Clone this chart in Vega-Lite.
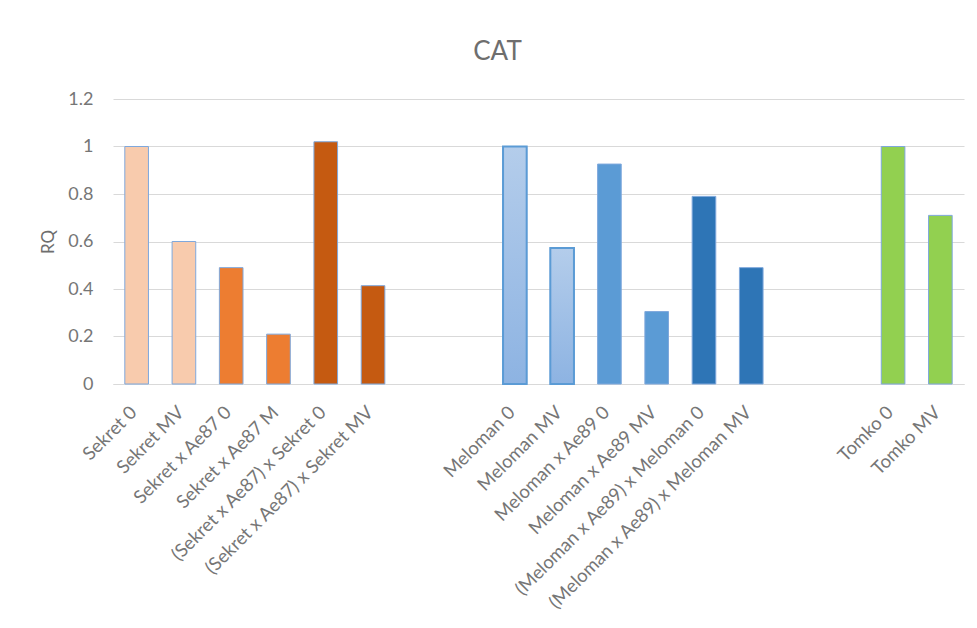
{
  "$schema": "https://vega.github.io/schema/vega-lite/v6.json",
  "width": 851,
  "height": 285,
  "autosize": {"type": "none"},
  "padding": {"left": 113, "top": 99, "right": 13, "bottom": 244},
  "background": "white",
  "title": {
    "text": "CAT",
    "font": "Lato",
    "fontSize": 26,
    "fontWeight": "normal",
    "color": "#6E6E6E",
    "anchor": "middle",
    "dx": -41,
    "offset": 25
  },
  "data": {
    "values": [
      {"label": "Sekret 0", "group": "Sekret", "RQ": 1.0},
      {"label": "Sekret MV", "group": "Sekret", "RQ": 0.6},
      {"label": "Sekret x Ae87 0", "group": "Sekret x Ae87", "RQ": 0.49},
      {"label": "Sekret x Ae87 M", "group": "Sekret x Ae87", "RQ": 0.21},
      {"label": "(Sekret x Ae87) x Sekret 0", "group": "(Sekret x Ae87) x Sekret", "RQ": 1.02},
      {"label": "(Sekret x Ae87) x Sekret MV", "group": "(Sekret x Ae87) x Sekret", "RQ": 0.414},
      {"label": "Meloman 0", "group": "Meloman", "RQ": 1.0},
      {"label": "Meloman MV", "group": "Meloman", "RQ": 0.573},
      {"label": "Meloman x Ae89 0", "group": "Meloman x Ae89", "RQ": 0.926},
      {"label": "Meloman x Ae89 MV", "group": "Meloman x Ae89", "RQ": 0.305},
      {"label": "(Meloman x Ae89) x Meloman 0", "group": "(Meloman x Ae89) x Meloman", "RQ": 0.79},
      {"label": "(Meloman x Ae89) x Meloman MV", "group": "(Meloman x Ae89) x Meloman", "RQ": 0.49},
      {"label": "Tomko 0", "group": "Tomko", "RQ": 1.0},
      {"label": "Tomko MV", "group": "Tomko", "RQ": 0.71}
    ]
  },
  "encoding": {
    "x": {
      "field": "label",
      "type": "nominal",
      "scale": {
        "domain": [
          "Sekret 0", "Sekret MV", "Sekret x Ae87 0", "Sekret x Ae87 M",
          "(Sekret x Ae87) x Sekret 0", "(Sekret x Ae87) x Sekret MV", " ", "  ",
          "Meloman 0", "Meloman MV", "Meloman x Ae89 0", "Meloman x Ae89 MV",
          "(Meloman x Ae89) x Meloman 0", "(Meloman x Ae89) x Meloman MV", "   ", "    ",
          "Tomko 0", "Tomko MV"
        ],
        "paddingInner": 0.5,
        "paddingOuter": 0.25
      },
      "axis": {
        "title": null,
        "labelAngle": -45,
        "labelAlign": "right",
        "labelBaseline": "middle",
        "labelFont": "Lato",
        "labelFontSize": 18.5,
        "labelColor": "#767676",
        "labelPadding": 25,
        "labelOffset": -3,
        "labelLimit": 400,
        "ticks": false,
        "domainColor": "#D9D9D9",
        "domainWidth": 1,
        "grid": false
      }
    },
    "y": {
      "field": "RQ",
      "type": "quantitative",
      "scale": {"domain": [0, 1.2], "nice": false},
      "axis": {
        "title": "RQ",
        "titleFont": "Lato",
        "titleFontSize": 17,
        "titleFontWeight": "normal",
        "titleColor": "#6E6E6E",
        "titlePadding": 10,
        "values": [0, 0.2, 0.4, 0.6, 0.8, 1, 1.2],
        "format": ".1~f",
        "labelFont": "Lato",
        "labelFontSize": 18,
        "labelColor": "#767676",
        "labelPadding": 20,
        "ticks": false,
        "domain": false,
        "grid": true,
        "gridColor": "#D9D9D9",
        "gridWidth": 1
      }
    }
  },
  "layer": [
    {
      "mark": {"type": "bar", "stroke": "#7FA8DC", "strokeWidth": 1},
      "encoding": {
        "color": {
          "field": "group",
          "type": "nominal",
          "legend": null,
          "scale": {
            "domain": [
              "Sekret", "Sekret x Ae87", "(Sekret x Ae87) x Sekret",
              "Meloman", "Meloman x Ae89", "(Meloman x Ae89) x Meloman", "Tomko"
            ],
            "range": ["#F8CBAD", "#ED7D31", "#C55A11", "#A4C2E8", "#5B9BD5", "#2E75B6", "#92D050"]
          }
        }
      }
    },
    {
      "transform": [{"filter": "datum.group === 'Meloman'"}],
      "mark": {
        "type": "bar",
        "stroke": "#5B9BD5",
        "strokeWidth": 2,
        "color": {
          "gradient": "linear",
          "x1": 0, "y1": 0, "x2": 0, "y2": 1,
          "stops": [
            {"offset": 0, "color": "#B4CDEB"},
            {"offset": 1, "color": "#8DB3E2"}
          ]
        }
      }
    }
  ],
  "config": {
    "view": {"stroke": null}
  }
}
